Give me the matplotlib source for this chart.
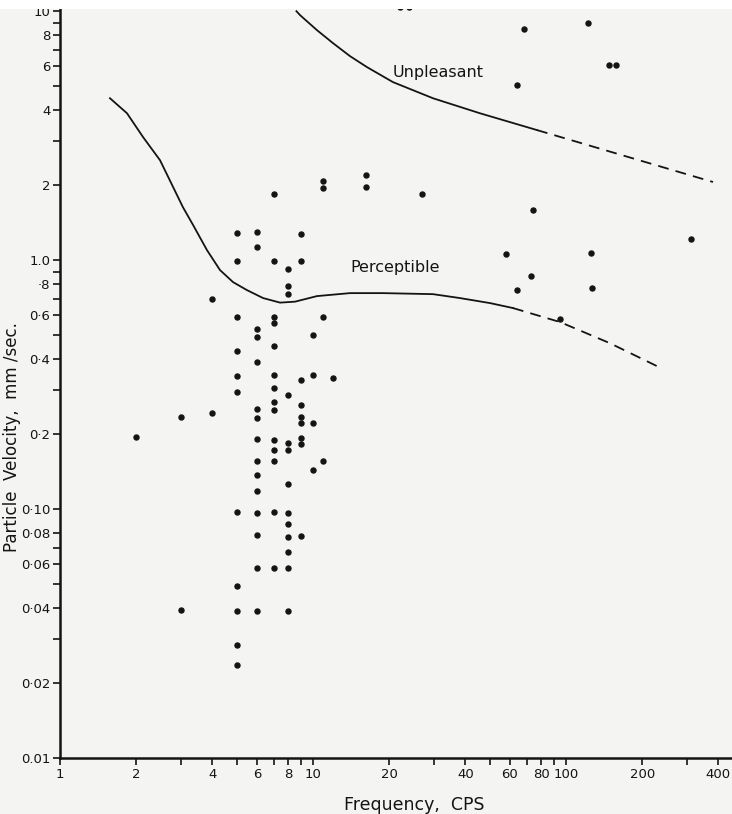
import numpy as np
import matplotlib
matplotlib.use("Agg")
import matplotlib.pyplot as plt
from matplotlib.patches import Rectangle

# observations: frequency (cps) and particle velocity (mm/sec)
freq = [7, 11, 11, 5, 6, 9, 6, 5, 7, 9, 8, 8, 8, 4, 5, 7, 7, 11, 6, 6, 10,
        7, 5, 6, 5, 7, 9, 10, 12, 5, 7, 8, 7, 9, 6, 7, 4, 6, 9, 3, 9, 10,
        6, 7, 8, 9, 9, 7, 8, 6, 7, 11, 10, 6, 6, 8, 5, 6, 7, 8, 8, 6, 8, 9,
        8, 6, 7, 8, 5, 5, 6, 8, 5, 5, 3, 2,
        16.2, 16.2, 27, 68, 122, 148, 157, 64, 74, 311, 58, 125, 73, 64, 127,
        95, 22.1, 24.0]
vel = [1.84, 2.08, 1.95, 1.29, 1.3, 1.27, 1.13, 0.99, 0.99, 0.99, 0.92, 0.79,
       0.73, 0.70, 0.59, 0.59, 0.557, 0.59, 0.53, 0.49, 0.50, 0.45, 0.43,
       0.39, 0.343, 0.346, 0.33, 0.344, 0.336, 0.294, 0.306, 0.288, 0.268,
       0.262, 0.252, 0.25, 0.2425, 0.233, 0.234, 0.234, 0.222, 0.221,
       0.191, 0.19, 0.184, 0.182, 0.193, 0.172, 0.173, 0.156, 0.156, 0.156,
       0.144, 0.137, 0.118, 0.126, 0.0975, 0.096, 0.0975, 0.0966, 0.087,
       0.079, 0.077, 0.078, 0.067, 0.058, 0.058, 0.058, 0.049, 0.039, 0.039,
       0.039, 0.0284, 0.0236, 0.0394, 0.195,
       2.2, 1.96, 1.84, 8.5, 9.0, 6.07, 6.07, 5.05, 1.59, 1.22, 1.06, 1.07,
       0.86, 0.76, 0.77, 0.58, 10.4, 10.4]

# threshold curves
perc_f = [1.576, 1.84, 2.13, 2.485, 2.80, 3.06, 3.36, 3.81, 4.29, 4.83, 5.48,
          6.35, 7.41, 8.49, 10.37, 14.0, 18.9, 29.8, 38.1, 50.1, 61.7]
perc_v = [4.47, 3.89, 3.12, 2.52, 1.965, 1.633, 1.382, 1.097, 0.912, 0.816,
          0.758, 0.704, 0.675, 0.681, 0.717, 0.737, 0.737, 0.730, 0.704,
          0.672, 0.642]
perc_dash_f = [61.7, 94.7, 149, 229]
perc_dash_v = [0.642, 0.564, 0.464, 0.375]

unpl_f = [8.6, 8.89, 10.37, 12.0, 14.0, 16.35, 20.7, 29.8, 45.7, 76.8]
unpl_v = [10.0, 9.64, 8.39, 7.44, 6.60, 5.96, 5.19, 4.47, 3.89, 3.33]
unpl_dash_f = [76.8, 381]
unpl_dash_v = [3.33, 2.06]

xmaj = [1, 2, 4, 6, 8, 10, 20, 40, 60, 80, 100, 200, 400]
xmaj_lab = ['1', '2', '4', '6', '8', '10', '20', '40', '60', '80', '100', '200', '400']
xmin = [3, 5, 7, 9, 30, 50, 70, 90, 300]
ymaj = [10, 8, 6, 4, 2, 1.0, 0.8, 0.6, 0.4, 0.2, 0.1, 0.08, 0.06, 0.04, 0.02, 0.01]
ymaj_lab = ['10', '8', '6', '4', '2', '1.0', '·8', '0·6', '0·4', '0·2', '0·10',
            '0·08', '0·06', '0·04', '0·02', '0.01']
ymin = [9, 7, 5, 3, 0.9, 0.7, 0.5, 0.3, 0.07, 0.05, 0.03]

ink = '#141414'
bg = '#f4f4f2'

fig = plt.figure(figsize=(7.32, 8.14), dpi=100, facecolor=bg)
ax = fig.add_axes([60/732, 1-758/814, 1-60/732, 750/814])
ax.set_facecolor(bg)
ax.set_xscale('log')
ax.set_yscale('log')
ax.set_xlim(1, 453)
ax.set_ylim(0.01, 10.3)

ax.plot(perc_f, perc_v, color=ink, lw=1.3)
ax.plot(perc_dash_f, perc_dash_v, color=ink, lw=1.3, ls=(0, (6, 4)))
ax.plot(unpl_f, unpl_v, color=ink, lw=1.3)
ax.plot(unpl_dash_f, unpl_dash_v, color=ink, lw=1.3, ls=(0, (6, 4)))
ax.plot(freq, vel, 'o', color=ink, ms=3.6, mec=ink)

ax.text(20.7, 5.69, 'Unpleasant', fontsize=11.5, color=ink, va='center', ha='left')
ax.text(14.0, 0.937, 'Perceptible', fontsize=11.5, color=ink, va='center', ha='left')

for s in ['top', 'right']:
    ax.spines[s].set_visible(False)
for s in ['left', 'bottom']:
    ax.spines[s].set_linewidth(1.8)
    ax.spines[s].set_color(ink)

ax.set_xticks(xmaj)
ax.set_xticklabels(xmaj_lab)
ax.set_xticks(xmin, minor=True)
ax.set_xticklabels([], minor=True)
ax.set_yticks(ymaj)
ax.set_yticklabels(ymaj_lab)
ax.set_yticks(ymin, minor=True)
ax.set_yticklabels([], minor=True)
ax.tick_params(which='both', direction='out', length=5, width=1.2, color=ink,
               labelsize=9.5, labelcolor=ink, pad=2)

fig.text(414/732, 1-805/814, 'Frequency,  CPS', fontsize=12.5, color=ink,
         ha='center', va='center')
fig.text(12/732, 1-437/814, 'Particle  Velocity,  mm /sec.', fontsize=12,
         color=ink, ha='center', va='center', rotation=90)

# white strip at the top edge of the scan
fig.patches.append(Rectangle((0, 1-9/814), 1, 9/814, transform=fig.transFigure,
                             facecolor='white', edgecolor='none', zorder=10))

fig.savefig('out.png', dpi=100, facecolor=bg)
